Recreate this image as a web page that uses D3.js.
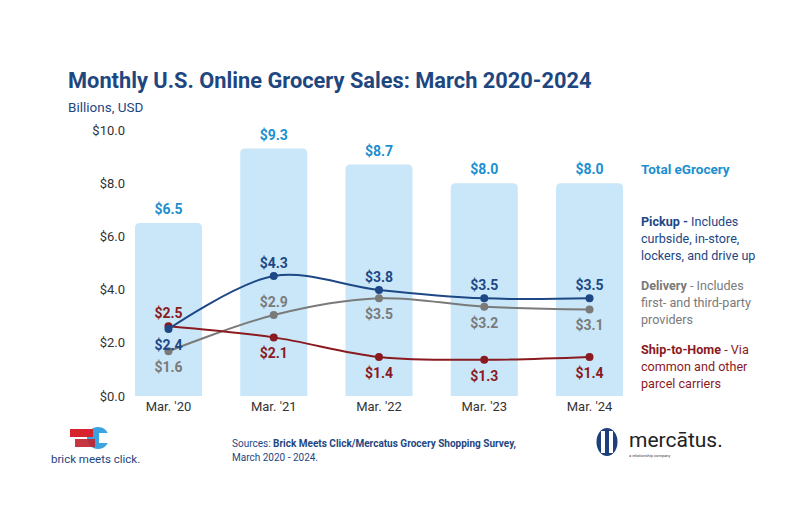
<!DOCTYPE html>
<html><head><meta charset="utf-8">
<script src="https://cdn.jsdelivr.net/npm/d3@7"></script>
<style>
html,body{margin:0;padding:0;background:#fff;}
svg text{font-family:Roboto,"Noto Sans",sans-serif;}
</style></head>
<body>
<svg id="chart" width="800" height="528"></svg>
<script>
// ---- data ----
const categories = ["Mar. '20", "Mar. '21", "Mar. '22", "Mar. '23", "Mar. '24"];
const totalValues = [6.5, 9.3, 8.7, 8.0, 8.0];
const pickupValues = [2.4, 4.3, 3.8, 3.5, 3.5];
const deliveryValues = [1.6, 2.9, 3.5, 3.2, 3.1];
const shipValues = [2.5, 2.1, 1.4, 1.3, 1.4];
const pickupLabelSide = ["below", "above", "above", "above", "above"];
const deliveryLabelSide = ["below", "above", "below", "below", "below"];
const shipLabelSide = ["above", "below", "below", "below", "below"];
const yTicks = [0, 2, 4, 6, 8, 10];

const colors = {
  title: "#1f477f",
  total: "#1b8fd0",
  bar: "#c9e7f8",
  pickup: "#1d4785",
  delivery: "#7a7a7a",
  ship: "#8a1a1f",
  axis: "#333333"
};

const svg = d3.select("#chart");

// ---- scales ----
const x = d3.scaleBand().domain(categories).range([116, 642]).paddingInner(0.363).paddingOuter(0.18);
const y = d3.scaleLinear().domain([0, 10]).range([396, 130]);
const yLine = d3.scaleLinear().domain([0, 9.53]).range([396, 130]);

// ---- title ----
svg.append("text").attr("x", 68).attr("y", 88)
  .attr("font-size", 21.8).attr("font-weight", 700).attr("fill", colors.title)
  .text("Monthly U.S. Online Grocery Sales: March 2020-2024");
svg.append("text").attr("x", 68).attr("y", 112)
  .attr("font-size", 13.5).attr("fill", colors.title)
  .text("Billions, USD");

// ---- y axis ----
const yAxis = d3.axisLeft(y).tickValues(yTicks).tickSize(0).tickPadding(0)
  .tickFormat(d => "$" + d3.format(".1f")(d));
const gy = svg.append("g").attr("transform", "translate(125,0)").call(yAxis);
gy.select(".domain").remove();
gy.selectAll("text").attr("font-size", 13).attr("fill", colors.axis)
  .style("font-family", "Roboto, sans-serif");

// ---- x axis ----
const xAxis = d3.axisBottom(x).tickSize(0).tickPadding(6);
const gx = svg.append("g").attr("transform", "translate(0,396)").call(xAxis);
gx.select(".domain").remove();
gx.selectAll("text").attr("font-size", 13).attr("fill", colors.axis)
  .style("font-family", "Roboto, sans-serif");

// ---- bars (rounded top) ----
function barPath(x0, w, yTop, yBot, r) {
  return `M${x0},${yBot} L${x0},${yTop + r} Q${x0},${yTop} ${x0 + r},${yTop} L${x0 + w - r},${yTop} Q${x0 + w},${yTop} ${x0 + w},${yTop + r} L${x0 + w},${yBot} Z`;
}
svg.append("g").selectAll("path").data(categories).join("path")
  .attr("d", (c, i) => barPath(x(c), x.bandwidth(), y(totalValues[i]), y(0), 5))
  .attr("fill", colors.bar);

svg.append("g").selectAll("text").data(categories).join("text")
  .attr("x", c => x(c) + x.bandwidth() / 2)
  .attr("y", (c, i) => y(totalValues[i]) - 9)
  .attr("text-anchor", "middle").attr("font-size", 14).attr("font-weight", 700)
  .attr("fill", colors.total)
  .text((c, i) => "$" + d3.format(".1f")(totalValues[i]));

// ---- lines ----
const seriesList = [
  { values: deliveryValues, color: colors.delivery, sides: deliveryLabelSide },
  { values: shipValues, color: colors.ship, sides: shipLabelSide },
  { values: pickupValues, color: colors.pickup, sides: pickupLabelSide }
];
const line = d3.line()
  .x((d, i) => x(categories[i]) + x.bandwidth() / 2)
  .y(d => yLine(d))
  .curve(d3.curveCatmullRom.alpha(0.5));

seriesList.forEach(s => {
  const g = svg.append("g");
  g.append("path").datum(s.values).attr("d", line)
    .attr("fill", "none").attr("stroke", s.color).attr("stroke-width", 2);
  g.selectAll("circle").data(s.values).join("circle")
    .attr("cx", (d, i) => x(categories[i]) + x.bandwidth() / 2)
    .attr("cy", d => yLine(d)).attr("r", 4).attr("fill", s.color);
});
seriesList.forEach(s => {
  svg.append("g").selectAll("text").data(s.values).join("text")
    .attr("x", (d, i) => x(categories[i]) + x.bandwidth() / 2)
    .attr("y", (d, i) => yLine(d) + (s.sides[i] === "above" ? -8 : 21))
    .attr("text-anchor", "middle").attr("font-size", 14).attr("font-weight", 700)
    .attr("fill", s.color)
    .text(d => "$" + d3.format(".1f")(d));
});

// ---- legend ----
const legend = [
  { y: 174, color: colors.total, size: 13.5, lines: [[["Total eGrocery", 700]]] },
  { y: 226, color: colors.pickup, size: 12.6, lines: [[["Pickup - ", 700], ["Includes", 400]], [["curbside, in-store,", 400]], [["lockers, and drive up", 400]]] },
  { y: 290, color: colors.delivery, size: 12.6, lines: [[["Delivery", 700], [" - Includes", 400]], [["first- and third-party", 400]], [["providers", 400]]] },
  { y: 354, color: colors.ship, size: 12.6, lines: [[["Ship-to-Home", 700], [" - Via", 400]], [["common and other", 400]], [["parcel carriers", 400]]] }
];
legend.forEach(item => {
  item.lines.forEach((ln, li) => {
    const t = svg.append("text").attr("x", 641).attr("y", item.y + li * 17)
      .attr("font-size", item.size).attr("fill", item.color);
    ln.forEach(([txt, w]) => t.append("tspan").attr("font-weight", w).text(txt));
  });
});

// ---- source ----
const src = svg.append("text").attr("x", 232).attr("y", 447).attr("font-size", 10).attr("fill", colors.title);
src.append("tspan").text("Sources: ");
src.append("tspan").attr("font-weight", 700).text("Brick Meets Click/Mercatus Grocery Shopping Survey,");
svg.append("text").attr("x", 232).attr("y", 461).attr("font-size", 10).attr("fill", colors.title)
  .text("March 2020 - 2024.");

// ---- brick meets click logo ----
const bmc = svg.append("g");
bmc.append("circle").attr("cx", 98).attr("cy", 438).attr("r", 11).attr("fill", "#3ba3e0");
bmc.append("rect").attr("x", 99).attr("y", 433).attr("width", 14).attr("height", 10).attr("fill", "#fff");
bmc.append("rect").attr("x", 70).attr("y", 429).attr("width", 23).attr("height", 8).attr("fill", "#d6232e");
bmc.append("rect").attr("x", 75).attr("y", 439).attr("width", 20).attr("height", 8).attr("fill", "#c0202c").attr("opacity", 0.9);
bmc.append("text").attr("x", 51).attr("y", 463).attr("font-size", 11.5).attr("fill", "#25447a")
  .text("brick meets click.");

// ---- mercatus logo ----
const mc = svg.append("g");
mc.append("ellipse").attr("cx", 607).attr("cy", 442).attr("rx", 10.5).attr("ry", 14).attr("fill", "#1d3f7a");
mc.append("rect").attr("x", 601).attr("y", 431).attr("width", 4).attr("height", 22).attr("fill", "#fff");
mc.append("rect").attr("x", 609).attr("y", 431).attr("width", 4).attr("height", 22).attr("fill", "#fff");
mc.append("text").attr("x", 629).attr("y", 447).attr("font-size", 21).attr("fill", "#222")
  .text("mercātus.");
mc.append("text").attr("x", 629).attr("y", 457).attr("font-size", 4).attr("fill", "#444")
  .text("a relationship company");
</script>
</body></html>
